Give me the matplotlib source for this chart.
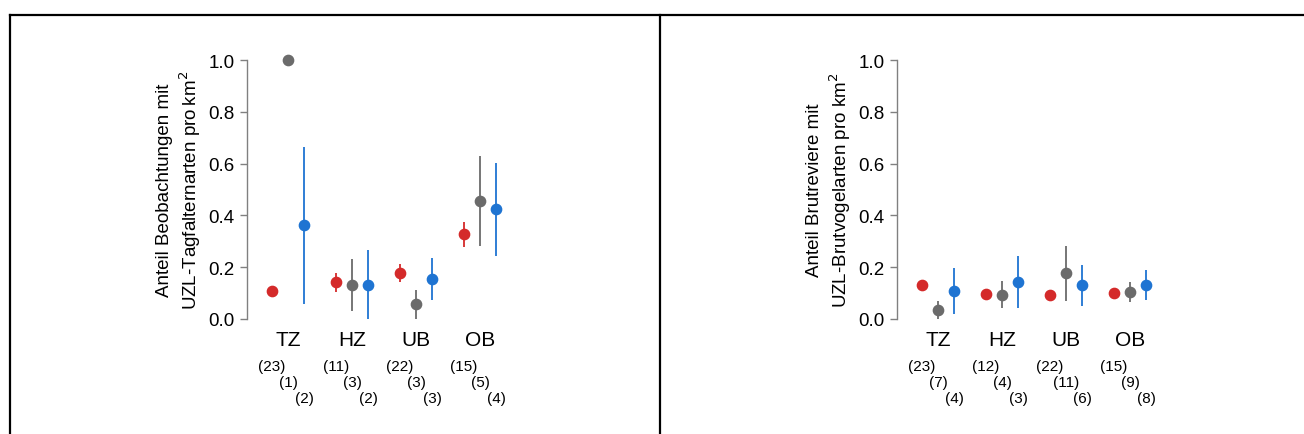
import matplotlib.pyplot as plt
import numpy as np

plt.rcParams['font.family'] = ['Liberation Sans', 'DejaVu Sans']

zones = ['TZ', 'HZ', 'UB', 'OB']
colors = ['#d42a2a', '#6b6b6b', '#1f74d2']

# left panel: butterflies (Tagfalter)
tf_mean = [[0.108, 0.143, 0.179, 0.328],
           [1.0, 0.132, 0.057, 0.457],
           [0.362, 0.132, 0.154, 0.423]]
tf_low = [[0.100, 0.105, 0.144, 0.279],
          [1.0, 0.032, 0.0, 0.283],
          [0.058, 0.0, 0.073, 0.245]]
tf_high = [[0.116, 0.178, 0.212, 0.373],
           [1.0, 0.232, 0.112, 0.631],
           [0.664, 0.268, 0.235, 0.602]]
tf_n = [[23, 11, 22, 15], [1, 3, 3, 5], [2, 2, 3, 4]]

# right panel: breeding birds (Brutvogel)
bv_mean = [[0.132, 0.097, 0.092, 0.099],
           [0.035, 0.094, 0.177, 0.104],
           [0.109, 0.143, 0.131, 0.132]]
bv_low = [[0.122, 0.090, 0.085, 0.085],
          [0.0, 0.041, 0.068, 0.064],
          [0.019, 0.041, 0.051, 0.073]]
bv_high = [[0.142, 0.104, 0.099, 0.114],
           [0.071, 0.148, 0.283, 0.144],
           [0.196, 0.242, 0.210, 0.189]]
bv_n = [[23, 12, 22, 15], [7, 4, 11, 9], [4, 3, 6, 8]]

W, H = 1304, 435
offsets = [-0.25, 0.0, 0.25]


def panel(x0, mean, low, high, n, ylabel):
    ax = fig.add_axes([x0 / W, (H - 320) / H, 265 / W, 259 / H])
    x = np.arange(len(zones))
    for k in range(3):
        m = np.array(mean[k])
        err = [m - np.array(low[k]), np.array(high[k]) - m]
        ax.errorbar(x + offsets[k], m, yerr=err, fmt='o', color=colors[k],
                    ms=7.4, elinewidth=1.3, capsize=0, clip_on=False, zorder=3)
        for i in range(len(zones)):
            ax.text(x[i] + offsets[k], -0.18 - 0.063 * k, '(%d)' % n[k][i],
                    ha='center', va='center', fontsize=11)
    for i, z in enumerate(zones):
        ax.text(x[i], -0.078, z, ha='center', va='center', fontsize=15)
    ax.set_xlim(-0.64, 3.5)
    ax.set_ylim(0, 1)
    ax.set_yticks([0, 0.2, 0.4, 0.6, 0.8, 1.0])
    ax.set_yticklabels(['0.0', '0.2', '0.4', '0.6', '0.8', '1.0'])
    ax.tick_params(axis='y', labelsize=13.5, color='#808080', length=5, width=1, pad=4)
    ax.set_xticks([])
    for s in ['top', 'right', 'bottom']:
        ax.spines[s].set_visible(False)
    ax.spines['left'].set_color('#808080')
    ax.spines['left'].set_linewidth(1)
    ax.set_ylabel(ylabel, fontsize=13.5, labelpad=4, linespacing=1.2)
    return ax


fig = plt.figure(figsize=(W / 100, H / 100), dpi=100)

panel(247, tf_mean, tf_low, tf_high, tf_n,
      'Anteil Beobachtungen mit\nUZL-Tagfalternarten pro\u2009km$^2$')
panel(897, bv_mean, bv_low, bv_high, bv_n,
      'Anteil Brutreviere mit\nUZL-Brutvogelarten pro km$^2$')

# table-like frame lines
fig.add_artist(plt.Line2D([10 / W, 1303 / W], [(H - 16) / H] * 2, color='black', lw=1.6))
fig.add_artist(plt.Line2D([10 / W] * 2, [0, (H - 16) / H], color='black', lw=1.6))
fig.add_artist(plt.Line2D([660 / W] * 2, [0, (H - 16) / H], color='black', lw=1.6))

plt.savefig('out.png', dpi=100)
